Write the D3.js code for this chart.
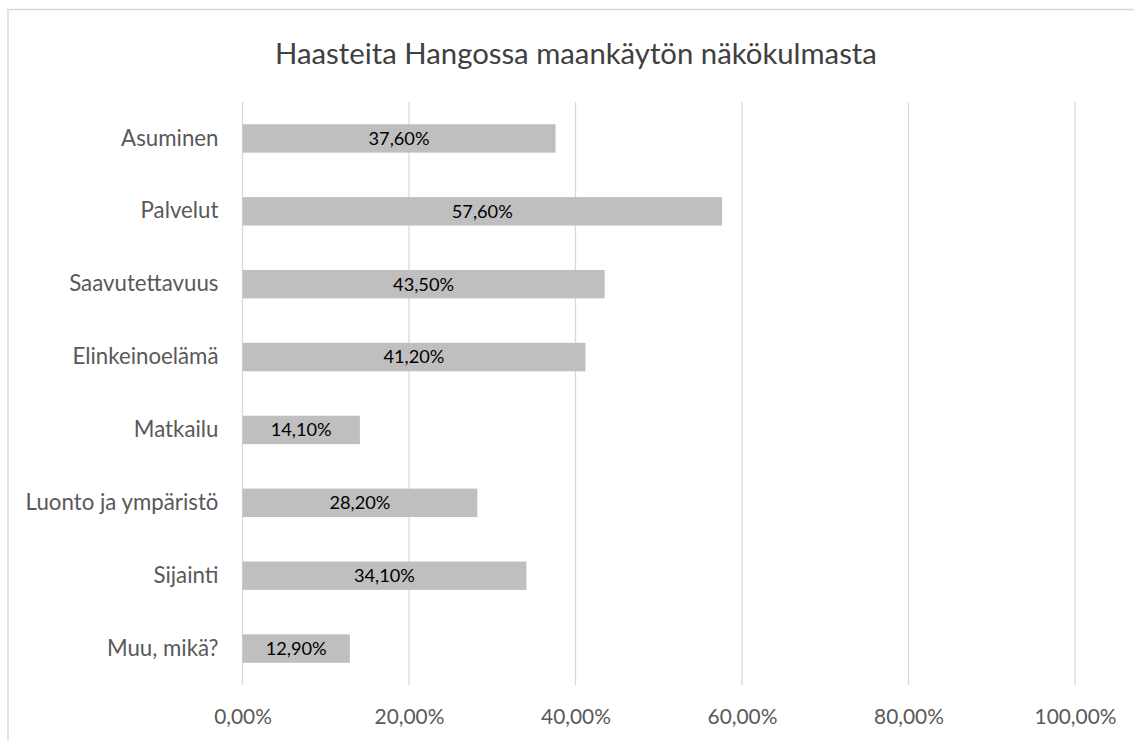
<!DOCTYPE html>
<html><head><meta charset="utf-8">
<script src="https://cdn.jsdelivr.net/npm/d3@7"></script>
<style>body{margin:0;background:#fff}svg{display:block}</style>
</head><body>
<svg id="c" width="1134" height="740"></svg>
<script>
const categories = ["Asuminen","Palvelut","Saavutettavuus","Elinkeinoelämä","Matkailu","Luonto ja ympäristö","Sijainti","Muu, mikä?"];
const values = [37.6, 57.6, 43.5, 41.2, 14.1, 28.2, 34.1, 12.9];
const ticks = [0, 20, 40, 60, 80, 100];
const title = "Haasteita Hangossa maankäytön näkökulmasta";

const fmt = v => v.toFixed(2).replace(".", ",") + "%";
const FONT = "Lato, 'Open Sans', sans-serif";
const svg = d3.select("#c");

svg.append("rect").attr("x", 8).attr("y", 9.5).attr("width", 1140).attr("height", 760)
  .attr("fill", "#fff").attr("stroke", "#d9d9d9").attr("stroke-width", 1.5);

const x = d3.scaleLinear().domain([0, 100]).range([242.5, 1075]);
const y = d3.scaleBand().domain(categories).range([102, 685]).paddingInner(0.61).paddingOuter(0.305);

// fit font sizes to measured widths
function fitSize(text, target, base) {
  const t = svg.append("text").attr("font-family", FONT).attr("font-size", base).text(text);
  const w = t.node().getComputedTextLength();
  t.remove();
  return base * target / w;
}
const titleSize = fitSize(title, 602, 24);
const catSize = fitSize("Luonto ja ympäristö", 193, 16);
const tickSize = fitSize("100,00%", 82, 16);
const valSize = fitSize("12,90%", 61, 16);

// gridlines
svg.append("g").selectAll("line").data(ticks).join("line")
  .attr("x1", d => x(d)).attr("x2", d => x(d))
  .attr("y1", 102).attr("y2", 685)
  .attr("stroke", "#d9d9d9").attr("stroke-width", 1.3);

// x axis labels
const xAxis = d3.axisBottom(x).tickValues(ticks).tickFormat(fmt).tickSize(0).tickPadding(0);
const gx = svg.append("g").attr("transform", "translate(0,717)").call(xAxis);
gx.select(".domain").remove();
gx.selectAll("text").attr("font-family", FONT).attr("font-size", tickSize)
  .attr("fill", "#595959").attr("dy", "0.35em").attr("y", 0);

// y axis labels
const yAxis = d3.axisLeft(y).tickSize(0).tickPadding(24);
const gy = svg.append("g").attr("transform", `translate(${x(0)},0)`).call(yAxis);
gy.select(".domain").remove();
gy.selectAll("text").attr("font-family", FONT).attr("font-size", catSize).attr("fill", "#595959");

// bars
const data = categories.map((c, i) => ({c, v: values[i]}));
svg.append("g").selectAll("rect").data(data).join("rect")
  .attr("x", x(0)).attr("y", d => y(d.c))
  .attr("width", d => x(d.v) - x(0)).attr("height", y.bandwidth())
  .attr("fill", "#bfbfbf");

// value labels
svg.append("g").selectAll("text").data(data).join("text")
  .attr("x", d => (x(0) + x(d.v)) / 2).attr("y", d => y(d.c) + y.bandwidth() / 2)
  .attr("dy", "0.35em").attr("text-anchor", "middle")
  .attr("font-family", FONT).attr("font-size", valSize).attr("fill", "#000")
  .text(d => fmt(d.v));

// title
svg.append("text").attr("x", 576).attr("y", 54).attr("dy", "0.35em").attr("text-anchor", "middle")
  .attr("font-family", FONT).attr("font-size", titleSize).attr("fill", "#404040").text(title);
</script>
</body></html>
